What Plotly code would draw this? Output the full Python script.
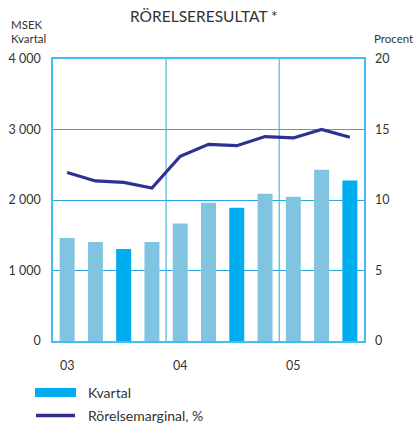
import plotly.graph_objects as go

quarters = ["03 Q1", "03 Q2", "03 Q3", "03 Q4", "04 Q1", "04 Q2", "04 Q3", "04 Q4", "05 Q1", "05 Q2", "05 Q3"]
years = ["03", "03", "03", "03", "04", "04", "04", "04", "05", "05", "05"]
kvartal = [1460, 1405, 1305, 1405, 1665, 1960, 1890, 2090, 2045, 2430, 2275]
marginal = [11.95, 11.35, 11.25, 10.85, 13.1, 13.95, 13.85, 14.5, 14.4, 15.0, 14.45]
highlight_q = "Q3"
y_left_ticks = [0, 1000, 2000, 3000, 4000]
y_right_ticks = [0, 5, 10, 15, 20]

LIGHT = "#80C4E2"
DARK = "#00ADEE"
LINE = "#2E3192"
GRID = "#2AAAE2"
BORDER = "#45BDEE"
TEXT = "#333333"
FONT = "Lato"

bar_colors = [DARK if q.endswith(highlight_q) else LIGHT for q in quarters]

fig = go.Figure()
fig.add_trace(go.Bar(x=quarters, y=kvartal, marker=dict(color=bar_colors, line=dict(width=0)),
                     name="Kvartal", showlegend=False, yaxis="y"))
fig.add_trace(go.Scatter(x=quarters, y=marginal, mode="lines", name="Rörelsemarginal, %",
                         line=dict(color=LINE, width=3.2), showlegend=False, yaxis="y2"))

# year tick labels at first quarter of each year
tickvals, ticktext = [], []
for i, y in enumerate(years):
    if i == 0 or years[i - 1] != y:
        tickvals.append(quarters[i]); ticktext.append(y)

shapes = []
for i in range(1, len(years)):
    if years[i] != years[i - 1]:
        shapes.append(dict(type="line", xref="x", yref="paper", x0=i - 0.5, x1=i - 0.5, y0=0, y1=1,
                           line=dict(color=GRID, width=1), layer="below"))

W, H = 414, 425
L, R, T, B = 53, 50, 59, 84
pw, ph = W - L - R, H - T - B
def px(x): return (x - L) / pw
def py(y): return (H - B - y) / ph

# custom legend
shapes.append(dict(type="rect", xref="paper", yref="paper", x0=px(35), x1=px(76), y0=py(397), y1=py(388),
                   fillcolor=DARK, line=dict(width=0)))
shapes.append(dict(type="line", xref="paper", yref="paper", x0=px(36), x1=px(75), y0=py(415.5), y1=py(415.5),
                   line=dict(color=LINE, width=3.5)))

annotations = [
    dict(text="RÖRELSERESULTAT *", xref="paper", yref="paper", x=px(204), y=py(16), showarrow=False,
         xanchor="center", yanchor="middle", font=dict(size=15.5, color=TEXT, family=FONT)),
    dict(text="MSEK", xref="paper", yref="paper", x=px(9), y=py(25), showarrow=False,
         xanchor="left", yanchor="middle", font=dict(size=11.5, color=TEXT, family=FONT)),
    dict(text="Kvartal", xref="paper", yref="paper", x=px(9), y=py(39), showarrow=False,
         xanchor="left", yanchor="middle", font=dict(size=11.5, color=TEXT, family=FONT)),
    dict(text="Procent", xref="paper", yref="paper", x=px(372), y=py(39), showarrow=False,
         xanchor="left", yanchor="middle", font=dict(size=11.5, color=TEXT, family=FONT)),
    dict(text="Kvartal", xref="paper", yref="paper", x=px(86), y=py(392.5), showarrow=False,
         xanchor="left", yanchor="middle", font=dict(size=14, color=TEXT, family=FONT)),
    dict(text="Rörelsemarginal, %", xref="paper", yref="paper", x=px(86), y=py(415), showarrow=False,
         xanchor="left", yanchor="middle", font=dict(size=14, color=TEXT, family=FONT)),
]

fig.update_layout(
    width=W, height=H, margin=dict(l=L, r=R, t=T, b=B, pad=0, autoexpand=False),
    paper_bgcolor="white", plot_bgcolor="white",
    separators=", ",
    bargap=0.47,
    font=dict(family=FONT, size=12.5, color=TEXT),
    xaxis=dict(type="category", categoryorder="array", categoryarray=quarters, range=[-0.5, len(quarters) - 0.5],
               tickvals=tickvals, ticktext=ticktext, showgrid=False, zeroline=False, automargin=False,
               showline=True, linecolor=BORDER, linewidth=1.5, mirror=True,
               ticks="", ticklabelstandoff=12, tickfont=dict(size=12.5)),
    yaxis=dict(range=[0, 4000], tickvals=y_left_ticks, tickformat=",d", showgrid=True, gridcolor=GRID, gridwidth=1,
               zeroline=False, showline=True, linecolor=BORDER, linewidth=1.5, mirror=True, automargin=False,
               ticks="", ticklabelstandoff=8, tickfont=dict(size=12.5)),
    yaxis2=dict(range=[0, 20], tickvals=y_right_ticks, overlaying="y", side="right", showgrid=False,
                zeroline=False, showline=False, ticks="", ticklabelstandoff=10, automargin=False,
                tickfont=dict(size=12.5)),
    shapes=shapes, annotations=annotations, showlegend=False,
)

fig.write_html("out.html", config={"displayModeBar": False},
               post_script="document.body.style.margin='0';document.body.style.padding='0';")
